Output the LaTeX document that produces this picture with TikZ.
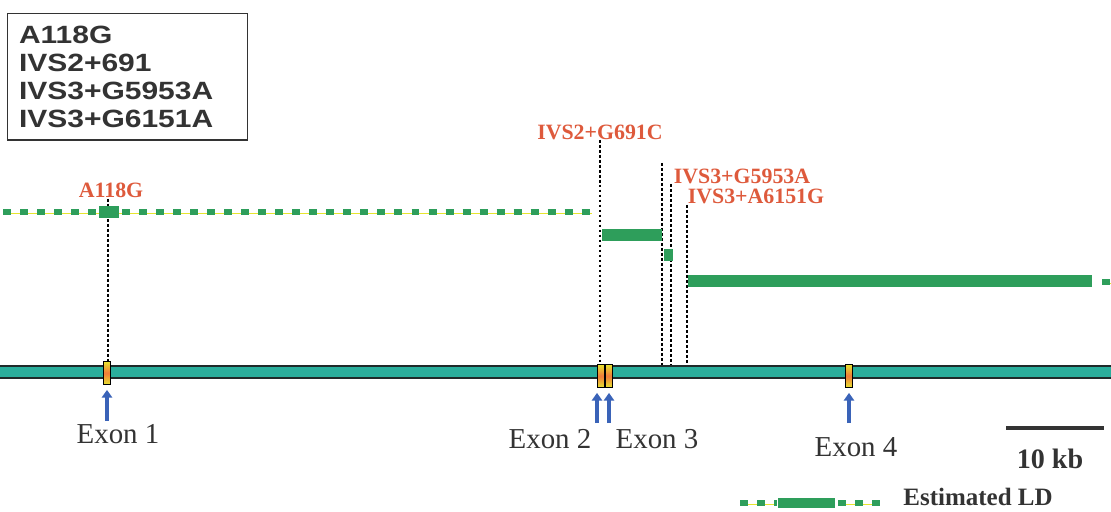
\documentclass[tikz,border=0pt]{standalone}
\usepackage{fontspec}
\setmainfont{Liberation Serif}
\newfontfamily\ldboxfont[FakeStretch=1.2]{Liberation Sans}
\usetikzlibrary{arrows.meta}
\definecolor{LDGreen}{HTML}{2E9E5B}
\definecolor{LDYellow}{HTML}{E6E52E}
\definecolor{LDOrange}{HTML}{F07A3A}
\definecolor{LDTeal}{HTML}{2AAE9C}
\definecolor{LDDark}{HTML}{1F2A2A}
\definecolor{LDRed}{HTML}{DE5A3C}
\definecolor{LDBlue}{HTML}{3A63B8}
\definecolor{LDInk}{HTML}{333333}
\tikzset{
  ldbox/.style={
    draw=LDInk,
    line width=0.8pt,
    anchor=north west,
    align=left,
    inner xsep=7pt,
    text width=139pt,
    minimum height=81pt,
    text=LDInk,
    font=\ldboxfont\bfseries\fontsize{16}{17.9}\selectfont
  },
  ldmark/.style={font=\bfseries\fontsize{14}{16}\selectfont,text=LDRed,inner sep=0pt},
  ldexonlbl/.style={font=\fontsize{18.5}{20}\selectfont,text=LDInk,inner sep=0pt},
  ldexon/.style={
    draw=black,
    line width=0.6pt,
    inner sep=0pt,
    minimum width=4.5pt,
    minimum height=15pt,
    top color=LDYellow,
    bottom color=LDYellow,
    middle color=LDOrange
  },
  lddash/.style={
    draw=LDGreen,
    line width=3.8pt,
    dash pattern=on 5.1pt off 5.8pt,
    preaction={draw=LDYellow,transform canvas={yshift=-1pt}}
  },
  ldbar/.style={
    draw=LDGreen,
    line width=7.7pt,
    preaction={draw=LDYellow,transform canvas={yshift=-1.2pt}}
  },
  ldvline/.style={draw=black,line width=0.9pt,dash pattern=on 1.8pt off 1.4pt},
  ldgene/.style={draw=LDDark,line width=0.8pt,double=LDTeal,double distance=7pt},
  ldarrow/.style={-{Triangle[width=6.6pt,length=5pt]},draw=LDBlue,line width=2.4pt,shorten >=3pt},
  ldscale/.style={draw=LDInk,line width=3pt}
}

\begin{document}
\begin{tikzpicture}[x=0.0225cm,y=-0.0225cm]
  \useasboundingbox (0,0) rectangle (1111,512);

  % SNP list
  \node[ldbox,minimum width=153.6pt] (snps) at (7,13)
    {A118G\\IVS2+691\\IVS3+G5953A\\IVS3+G6151A};

  % marker labels
  \node[ldmark] (mA) at (111,190) {A118G};
  \node[ldmark] (mB) at (600,132) {IVS2+G691C};
  \node[ldmark] (mC) at (742,176) {IVS3+G5953A};
  \node[ldmark] (mD) at (756,196) {IVS3+A6151G};

  % gene line ends
  \coordinate (gl) at (0,372);
  \coordinate (gr) at (1111,372);

  % marker positions
  \coordinate (vA) at (108,199);
  \coordinate (vC) at (662,163);
  \coordinate (vC2) at (671,184);
  \coordinate (vD) at (687,205);
  \draw[ldvline] (vA) -- (vA |- gl);
  \draw[ldvline] (mB.south) -- (mB.south |- gl);
  \draw[ldvline] (vC) -- (vC |- gl);
  \draw[ldvline] (vC2) -- (vC2 |- gl);
  \draw[ldvline] (vD) -- (vD |- gl);

  % estimated LD blocks
  \coordinate (ld0) at (3,212);
  \coordinate (ld1) at (592,212);
  \draw[lddash] (ld0) -- (ld1);
  \draw[ldbar] (99,212) -- (119,212);
  \draw[ldbar] (602,235) -- (662,235);
  \draw[ldbar,line width=8.3pt] (664,255) -- (673,255);
  \draw[ldbar] (688,281) -- (1092,281);
  \draw[lddash] (1102,282) -- (1111,282);

  % gene and exons
  \draw[ldgene] (gl) -- (gr);
  \node[ldexon] (ex1) at (107,373) {};
  \node[ldexon] (ex2) at (601,376) {};
  \node[ldexon] (ex3) at (609,376) {};
  \node[ldexon] (ex4) at (849,376) {};

  \coordinate (ar1) at (107,421);
  \coordinate (ar2) at (597,423);
  \coordinate (ar3) at (609,423);
  \coordinate (ar4) at (849,423);
  \draw[ldarrow] (ar1) -- (ar1 |- ex1.south);
  \draw[ldarrow] (ar2) -- (ar2 |- ex2.south);
  \draw[ldarrow] (ar3) -- (ar3 |- ex3.south);
  \draw[ldarrow] (ar4) -- (ar4 |- ex4.south);

  \node[ldexonlbl] (lx1) at (118,434) {Exon 1};
  \node[ldexonlbl] (lx2) at (550,439) {Exon 2};
  \node[ldexonlbl] (lx3) at (657,439) {Exon 3};
  \node[ldexonlbl] (lx4) at (856,447) {Exon 4};

  % scale bar
  \coordinate (sb0) at (1006,428);
  \coordinate (sb1) at (1104,428);
  \draw[ldscale] (sb0) -- (sb1);
  \node[font=\bfseries\fontsize{18}{20}\selectfont,text=LDInk,inner sep=0pt] (kb) at (1050,459) {10 kb};

  % legend
  \draw[lddash] (740,503) -- (777,503);
  \draw[ldbar,line width=5.8pt] (778,503) -- (835,503);
  \draw[lddash] (838,503) -- (880,503);
  \node[font=\bfseries\fontsize{16}{18}\selectfont,text=LDInk,inner sep=0pt] (leg) at (978,497) {Estimated LD};
\end{tikzpicture}
\end{document}
